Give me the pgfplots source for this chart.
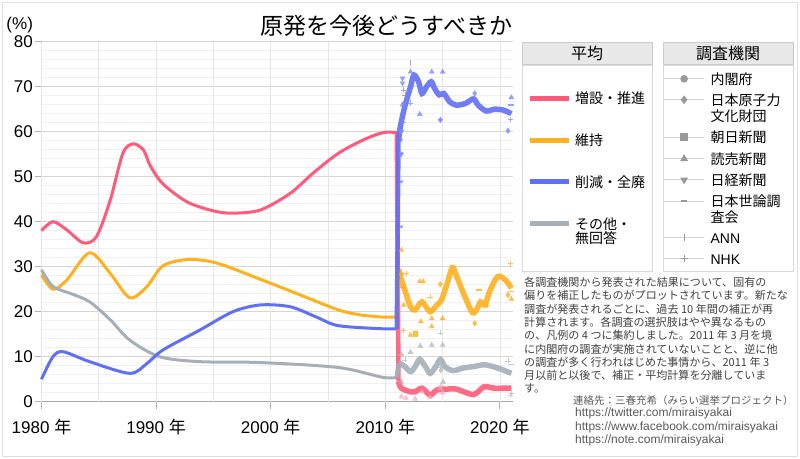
\documentclass[border=0pt]{standalone}
\usepackage{pgfplots}
\pgfplotsset{compat=1.18}
\usepackage{fontspec}
\setmainfont{Liberation Sans}
\newfontfamily\jp{Noto Sans CJK JP}
\definecolor{cred}{HTML}{FF5A7A}
\definecolor{corange}{HTML}{FFB01F}
\definecolor{cblue}{HTML}{5F70F4}
\definecolor{cgray}{HTML}{A4AFB8}
\definecolor{gridmaj}{HTML}{D6D6D6}
\definecolor{gridmin}{HTML}{F1F1F1}
\definecolor{gridx}{HTML}{E6E6E6}
\pgfplotsset{
  legbase/.style={hide axis, scale only axis, width=1bp, height=1bp,
    xmin=0, xmax=1, ymin=0, ymax=1, legend cell align=left,
    legend style={at={(0,1)}, anchor=north west, draw=none, fill=none,
      inner sep=0pt, outer sep=0pt,
      font=\jp\fontsize{14bp}{14bp}\selectfont,
      cells={anchor=base west}, nodes={inner sep=0pt}}},
}
% left legend entry: glyph-centre y, colour, text
\newcommand{\legL}[3]{%
\begin{axis}[legbase, at={(527bp,{-#1bp+8bp})}, anchor=north west,
  legend style={/tikz/every odd column/.append style={column sep=4bp}},
  legend image code/.code={\draw[##1, line width=5bp] (0bp,5.5bp) -- (39bp,5.5bp);}]
\addlegendimage{#2}
\addlegendentry{#3}
\end{axis}}
% right legend entry: glyph-centre y, image options, text
\newcommand{\legR}[3]{%
\begin{axis}[legbase, at={(663.6bp,{-#1bp+8bp})}, anchor=north west,
  legend style={/tikz/every odd column/.append style={column sep=6bp}},
  legend image code/.code={\draw[mark repeat=2, mark phase=2, ##1] plot coordinates {(0bp,5.5bp) (20bp,5.5bp) (40bp,5.5bp)};}]
\addlegendimage{#2}
\addlegendentry{#3}
\end{axis}}
\begin{document}
\begin{tikzpicture}[x=1bp,y=1bp]
\path[use as bounding box] (0,0) rectangle (800,-459);
\draw[black!12] (2.5,-2.5) rectangle (797.5,-456.5);
% title and y unit
\node[font=\jp\fontsize{23bp}{23bp}\selectfont, inner sep=0pt] at (386.5,-26) {原発を今後どうすべきか};
\node[font=\fontsize{17bp}{17bp}\selectfont, inner sep=0pt] at (19.7,-25.3) {(\%)};
\begin{axis}[
  at={(41.5bp,-401.7bp)}, anchor=south west,
  scale only axis, width=471.5bp, height=360bp,
  xmin=1980, xmax=2021.14, ymin=0, ymax=80,
  axis x line*=bottom, axis y line*=left,
  axis line style={-, draw=black!35, line width=1bp},
  xtick={1980,1990,2000,2010,2020},
  xticklabels={1980 {\jp 年},1990 {\jp 年},2000 {\jp 年},2010 {\jp 年},2020 {\jp 年}},
  ytick={0,10,...,80},
  minor y tick num=4,
  ymajorgrids, yminorgrids,
  major grid style={draw=gridmaj, line width=1.2bp},
  minor grid style={draw=gridmin, line width=0.8bp},
  extra x ticks={1980,1985,1990,1995,2000,2005,2010,2015,2020},
  extra x tick labels={,,,,,,,,},
  extra x tick style={xmajorgrids=true, major grid style={draw=gridx, line width=0.8bp}, major tick length=0pt},
  tick style={draw=black!30, line width=1bp},
  major tick length=7bp, minor tick length=0pt,
  tick align=outside,
  ticklabel style={font=\fontsize{17bp}{17bp}\selectfont, inner sep=0pt},
  yticklabel style={anchor=east, xshift=-1.5bp},
  xticklabel style={anchor=north, yshift=-10bp},
  /pgf/number format/assume math mode=true,
  clip=false,
]
% ---------- before March 2011 (smooth averages)
\addplot[cred, line width=3bp, smooth] coordinates {
(1980.0,38.0) (1981.0,40.0) (1982.2,38.2) (1983.65,35.3) (1984.8,36.7) (1986.0,44.8) (1987.1,55.2) (1988.0,57.3) (1988.9,55.9) (1989.5,52.4) (1990.6,48.4) (1992.7,44.4) (1995.0,42.4) (1996.7,41.9) (1999.1,42.6) (2001.7,46.3) (2003.7,50.8) (2005.9,55.2) (2008.1,58.2) (2009.8,59.8) (2011.0,59.8)};
\addplot[corange, line width=3bp, smooth] coordinates {
(1980.0,28.2) (1981.0,25.0) (1982.2,27.0) (1984.2,33.1) (1986.0,28.5) (1987.7,23.1) (1989.2,25.6) (1990.6,30.2) (1992.8,31.6) (1995.3,30.8) (1999.1,27.2) (2002.6,23.7) (2005.9,20.4) (2007.8,19.3) (2009.8,18.8) (2011.0,18.8)};
\addplot[cgray, line width=3bp, smooth] coordinates {
(1980.0,29.3) (1981.0,25.6) (1982.6,24.0) (1984.2,22.2) (1986.0,18.2) (1987.7,13.7) (1990.3,10.0) (1993.8,8.9) (1999.1,8.7) (2005.9,7.6) (2009.8,5.4) (2011.0,5.4)};
\addplot[cblue, line width=3bp, smooth] coordinates {
(1980.0,5.0) (1981.0,10.0) (1981.9,11.1) (1984.2,8.9) (1987.7,6.3) (1989.2,8.5) (1990.6,11.5) (1993.8,15.9) (1996.7,20.0) (1999.1,21.5) (2001.7,21.1) (2004.0,18.8) (2005.9,16.9) (2009.8,16.2) (2011.0,16.2)};
% ---------- survey points after March 2011
\addplot[only marks, mark=triangle*, mark size=2.8bp, cred!55, opacity=0.7] coordinates {(2011.4,1.1) (2011.8,0.8) (2012.6,0.6) (2013.2,2.2) (2013.9,1.0) (2014.8,3.0) (2015.0,2.0)};
\addplot[only marks, mark=+, mark size=2.6bp, cred!55, opacity=0.7] coordinates {(2014.8,3.6) (2020.9,1.4)};
\addplot[only marks, mark=triangle*, mark size=2.8bp, black!30, opacity=0.7] coordinates {(2011.4,10.5) (2011.4,4.4) (2012.2,11.0) (2013.05,12.4) (2014.05,12.6) (2015.0,12.6) (2015.05,4.4)};
\addplot[only marks, mark=+, mark size=2.6bp, black!30, opacity=0.7] coordinates {(2011.7,9.3) (2014.8,15.3) (2014.8,7.6) (2020.7,9.1) (2021.0,1.9)};
\addplot[only marks, mark=diamond*, mark size=2.8bp, black!30, opacity=0.7] coordinates {(2014.85,7.0)};
\addplot[only marks, mark=-, mark size=3bp, line width=1.5bp, black!30, opacity=0.7] coordinates {(2021.0,8.3)};
\addplot[only marks, mark=triangle*, mark size=2.8bp, corange, opacity=0.8] coordinates {(2011.4,33.7) (2011.4,28.5) (2011.5,25.6) (2011.6,21.5) (2012.2,14.8) (2013.0,26.7) (2013.3,26.7) (2013.1,17.8) (2014.05,18.5) (2014.05,16.7) (2015.0,18.5) (2021.0,22.8)};
\addplot[only marks, mark=+, mark size=2.6bp, corange, opacity=0.8] coordinates {(2011.6,15.8) (2011.8,28.5) (2013.9,23.3) (2018.9,21.5) (2020.9,30.8)};
\addplot[only marks, mark=diamond*, mark size=2.8bp, corange, opacity=0.8] coordinates {(2014.8,26.1) (2017.8,17.4) (2020.7,23.7)};
\addplot[only marks, mark=-, mark size=3bp, line width=1.5bp, corange, opacity=0.8] coordinates {(2018.2,24.8) (2021.0,24.5)};
\addplot[only marks, mark=square*, mark size=2.4bp, corange, opacity=0.8] coordinates {(2012.6,15.2)};
\addplot[only marks, mark=triangle*, mark size=2.8bp, cblue!80, opacity=0.8] coordinates {(2012.2,73.3) (2014.05,73.3) (2015.0,73.3) (2013.0,63.9) (2011.5,66.0) (2021.0,67.6)};
\addplot[only marks, mark=triangle*, mark options={rotate=180}, mark size=2.8bp, cblue!80, opacity=0.8] coordinates {(2011.5,71.9) (2011.5,70.8) (2011.4,60.0) (2011.4,55.0)};
\addplot[only marks, mark=|, mark size=3bp, line width=1.6bp, cblue!80, opacity=0.8] coordinates {(2012.2,75.3)};
\addplot[only marks, mark=+, mark size=2.6bp, cblue!80, opacity=0.8] coordinates {(2011.6,69.3) (2011.7,68.2) (2012.2,66.4) (2011.6,66.3) (2011.6,62.2) (2014.8,62.8) (2020.9,62.8)};
\addplot[only marks, mark=diamond*, mark size=2.8bp, cblue!80, opacity=0.8] coordinates {(2017.8,68.5) (2014.8,62.6) (2020.7,60.2)};
\addplot[only marks, mark=-, mark size=3bp, line width=1.5bp, cblue!80, opacity=0.8] coordinates {(2021.0,65.9)};
\addplot[only marks, mark=*, mark size=1.5bp, cblue!80, opacity=0.8] coordinates {(2011.4,58.2) (2011.4,55.2) (2011.4,48.9) (2011.4,38.9)};
% ---------- jumps at March 2011
\addplot[cred, line width=4.5bp, opacity=0.9] coordinates {(2011.0,59.8) (2011.15,4.5)};
\addplot[corange, line width=4.5bp, opacity=0.9] coordinates {(2011.0,18.8) (2011.15,29.5)};
\addplot[cgray, line width=4.5bp, opacity=0.9] coordinates {(2011.0,5.4) (2011.15,8.5)};
% ---------- after March 2011 (smooth averages)
\addplot[cred, line width=5.5bp, smooth, opacity=0.9] coordinates {
(2011.15,4.5) (2011.4,3.0) (2012.2,2.2) (2012.6,2.2) (2013.2,3.0) (2013.9,1.5) (2014.5,2.6) (2015.4,2.8) (2016.2,2.8) (2017.7,1.6) (2018.6,3.3) (2019.5,3.0) (2020.3,3.0) (2021.0,3.0)};
\addplot[corange, line width=5.5bp, smooth, opacity=0.9] coordinates {
(2011.15,29.5) (2011.35,27.5) (2011.7,24.8) (2012.2,21.1) (2012.6,20.4) (2013.2,22.2) (2013.9,20.0) (2014.5,21.5) (2014.9,22.6) (2015.4,26.3) (2015.85,29.8) (2016.2,28.0) (2017.0,23.0) (2017.6,19.8) (2018.0,20.6) (2018.3,22.2) (2018.7,21.5) (2019.1,24.5) (2019.8,27.8) (2020.5,27.0) (2021.0,25.2)};
\addplot[cgray, line width=5.5bp, smooth, opacity=0.9] coordinates {
(2011.15,8.5) (2011.3,8.5) (2011.7,7.8) (2012.2,6.7) (2012.6,7.8) (2013.0,9.4) (2013.5,7.8) (2013.9,6.3) (2014.4,7.8) (2014.8,9.4) (2015.2,7.8) (2015.9,6.9) (2016.8,7.5) (2017.7,7.8) (2018.7,8.2) (2019.9,7.4) (2021.0,6.3)};
\addplot[cblue, line width=4.5bp, opacity=0.9] coordinates {(2011.0,16.2) (2011.15,58.0)};
\addplot[cblue, line width=5.5bp, smooth, opacity=0.9] coordinates {
(2011.15,58.0) (2011.3,61.0) (2011.7,65.6) (2012.2,70.0) (2012.5,72.6) (2012.9,71.1) (2013.2,68.5) (2013.6,70.0) (2014.0,71.1) (2014.3,69.6) (2014.7,68.2) (2015.1,68.5) (2015.6,66.7) (2016.2,65.9) (2017.0,66.3) (2017.7,67.3) (2018.1,65.9) (2018.8,64.6) (2019.5,65.0) (2020.3,64.8) (2021.0,64.0)};
\end{axis}
% ---------- legend frames and headers
\draw[black!20, fill=black!9] (521.7,-42.3) rectangle (652.3,-64.3);
\draw[black!20, fill=black!9] (662.7,-42.3) rectangle (793.3,-64.3);
\draw[black!15, fill=white] (521.7,-65.7) rectangle (652.3,-271.7);
\draw[black!15, fill=white] (662.7,-65.7) rectangle (793.3,-271.7);
\node[font=\jp\fontsize{16bp}{16bp}\selectfont, inner sep=0pt] at (587,-53.3) {平均};
\node[font=\jp\fontsize{16bp}{16bp}\selectfont, inner sep=0pt] at (728,-53.3) {調査機関};
% ---------- left legend (averages)
\legL{97.7}{cred}{増設・推進\rule{0pt}{14bp}}
\legL{140}{corange}{維持\rule{0pt}{14bp}}
\legL{181}{cblue}{削減・全廃\rule{0pt}{14bp}}
\legL{223.3}{cgray}{\vtop{\baselineskip=14.4bp\hbox{その他・\rule{0pt}{14bp}}\hbox{無回答}}}
% ---------- right legend (survey organisations)
\legR{78.3}{draw=black!18, line width=1bp, mark=*, mark size=3.3bp, mark options={draw=black!40, fill=black!40}}{内閣府\rule{0pt}{14bp}}
\legR{99.3}{draw=black!18, line width=1bp, mark=diamond*, mark size=3.5bp, mark options={draw=black!40, fill=black!40}}{\vtop{\baselineskip=16bp\hbox{日本原子力\rule{0pt}{14bp}}\hbox{文化財団}}}
\legR{136.7}{draw=black!18, line width=1bp, mark=square*, mark size=3.2bp, mark options={draw=black!40, fill=black!40}}{朝日新聞\rule{0pt}{14bp}}
\legR{158.3}{draw=black!18, line width=1bp, mark=triangle*, mark size=3.6bp, mark options={draw=black!40, fill=black!40}}{読売新聞\rule{0pt}{14bp}}
\legR{179.3}{draw=black!18, line width=1bp, mark=triangle*, mark size=3.6bp, mark options={draw=black!40, fill=black!40, rotate=180}}{日経新聞\rule{0pt}{14bp}}
\legR{200.7}{draw=black!18, line width=1bp, mark=-, mark size=3bp, mark options={draw=black!40, line width=2bp}}{\vtop{\baselineskip=16bp\hbox{日本世論調\rule{0pt}{14bp}}\hbox{査会}}}
\legR{237.3}{draw=black!18, line width=1bp, mark=|, mark size=3.5bp, mark options={draw=black!40, line width=1.2bp}}{\rmfamily ANN\rule{0pt}{14bp}}
\legR{258.3}{draw=black!18, line width=1bp, mark=+, mark size=3.5bp, mark options={draw=black!40, line width=1.2bp}}{\rmfamily NHK\rule{0pt}{14bp}}
% ---------- notes
\node[anchor=north west, inner sep=0pt, align=left, text=black!75,
  font=\jp\fontsize{11.05bp}{13.3bp}\selectfont] at (524,-277) {%
各調査機関から発表された結果について、固有の\\
偏りを補正したものがプロットされています。新たな\\
調査が発表されるごとに、過去 10 年間の補正が再\\
計算されます。各調査の選択肢はやや異なるもの\\
の、凡例の 4 つに集約しました。2011 年 3 月を境\\
に内閣府の調査が実施されていないことと、逆に他\\
の調査が多く行われはじめた事情から、2011 年 3\\
月以前と以後で、補正・平均計算を分離していま\\
す。};
\node[anchor=base west, inner sep=0pt, text=black!65, font=\jp\fontsize{10.5bp}{10.5bp}\selectfont] at (573,-404) {連絡先：三春充希（みらい選挙プロジェクト）};
\node[anchor=base west, inner sep=0pt, text=black!65, font=\fontsize{12bp}{12bp}\selectfont] at (575,-416.5) {https://twitter.com/miraisyakai};
\node[anchor=base west, inner sep=0pt, text=black!65, font=\fontsize{12bp}{12bp}\selectfont] at (575,-430) {https://www.facebook.com/miraisyakai};
\node[anchor=base west, inner sep=0pt, text=black!65, font=\fontsize{12bp}{12bp}\selectfont] at (575,-443.5) {https://note.com/miraisyakai};
\end{tikzpicture}
\end{document}
